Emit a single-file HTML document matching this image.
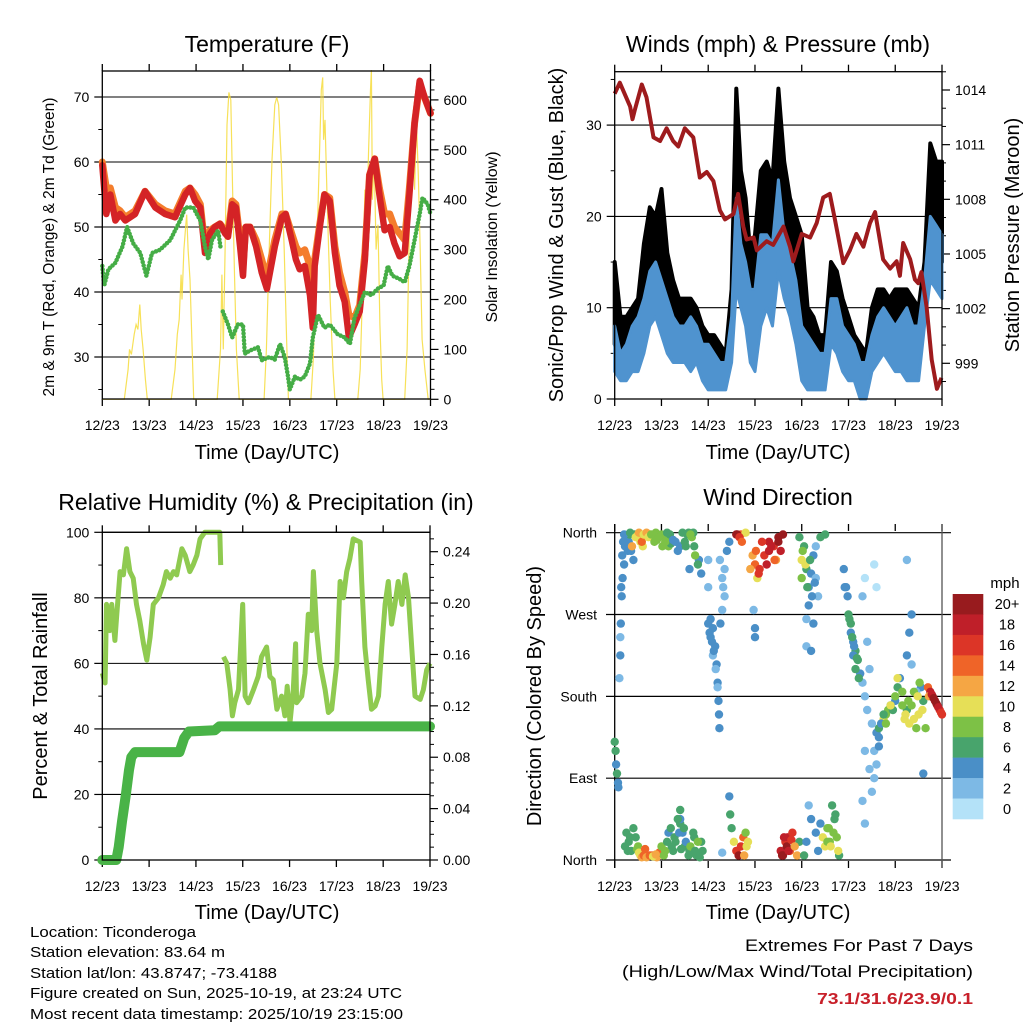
<!DOCTYPE html>
<html><head><meta charset="utf-8"><style>
html,body{margin:0;padding:0;background:#fff;}
svg{display:block;font-family:"Liberation Sans",sans-serif;}
</style></head><body>
<svg id="chart" width="1024" height="1024" viewBox="0 0 1024 1024" xmlns="http://www.w3.org/2000/svg">
<rect x="0" y="0" width="1024" height="1024" fill="#fff"/>
<g id="layer"></g>
<g font-size="23" text-anchor="middle" fill="#000">
<text x="267" y="52">Temperature (F)</text>
<text x="778" y="52">Winds (mph) &amp; Pressure (mb)</text>
<text x="266" y="510">Relative Humidity (%) &amp; Precipitation (in)</text>
<text x="778" y="505">Wind Direction</text>
</g>
<g font-size="20" text-anchor="middle" fill="#000">
<text x="267" y="459">Time (Day/UTC)</text>
<text x="778" y="459">Time (Day/UTC)</text>
<text x="267" y="919">Time (Day/UTC)</text>
<text x="778" y="919">Time (Day/UTC)</text>
<text transform="translate(54,247) rotate(-90)" font-size="15.5">2m &amp; 9m T (Red, Orange) &amp; 2m Td (Green)</text>
<text transform="translate(497,237) rotate(-90)" font-size="16">Solar Insolation (Yellow)</text>
<text transform="translate(563,235) rotate(-90)">Sonic/Prop Wind &amp; Gust (Blue, Black)</text>
<text transform="translate(1019,235) rotate(-90)">Station Pressure (Maroon)</text>
<text transform="translate(47,696) rotate(-90)">Percent &amp; Total Rainfall</text>
<text transform="translate(541,696) rotate(-90)">Direction (Colored By Speed)</text>
</g>
<text x="1005" y="588" font-size="15" text-anchor="middle">mph</text>
<g font-size="14.5" fill="#000">
<text x="30" y="937" textLength="166" lengthAdjust="spacingAndGlyphs">Location: Ticonderoga</text>
<text x="30" y="957" textLength="195" lengthAdjust="spacingAndGlyphs">Station elevation: 83.64 m</text>
<text x="30" y="978" textLength="247" lengthAdjust="spacingAndGlyphs">Station lat/lon: 43.8747; -73.4188</text>
<text x="30" y="998" textLength="372" lengthAdjust="spacingAndGlyphs">Figure created on Sun, 2025-10-19, at 23:24 UTC</text>
<text x="30" y="1019" textLength="373" lengthAdjust="spacingAndGlyphs">Most recent data timestamp: 2025/10/19 23:15:00</text>
</g>
<g text-anchor="end">
<text x="973" y="951" font-size="16.5" textLength="228" lengthAdjust="spacingAndGlyphs">Extremes For Past 7 Days</text>
<text x="973" y="977" font-size="16.5" textLength="351" lengthAdjust="spacingAndGlyphs">(High/Low/Max Wind/Total Precipitation)</text>
<text x="973" y="1004" font-size="16" font-weight="bold" fill="#c8202a" textLength="156" lengthAdjust="spacingAndGlyphs">73.1/31.6/23.9/0.1</text>
</g>
</svg>
<script>
// ---------- data ----------
const dayLabels=['12/23','13/23','14/23','15/23','16/23','17/23','18/23','19/23'];
const tempTicks=[30,40,50,60,70];
const solarTicks=[0,100,200,300,400,500,600];
const windTicks=[0,10,20,30];
const presTicks=[999,1002,1005,1008,1011,1014];
const rhTicks=[0,20,40,60,80,100];
const rainTicks=[0,0.04,0.08,0.12,0.16,0.20,0.24];
const dirTicks=[0,90,180,270,360];
const dirLabels=['North','East','South','West','North'];
const speedBins=['0','2','4','6','8','10','12','14','16','18','20+'];
const speedColors=['#b4e2f8','#7db9e5','#4a8fc7','#48a46c','#7dc146','#e6df57','#f5a644','#ef6428','#dc3527','#bf1f29','#981b1e'];

const tT=[0,.085,.17,.28,.38,.49,.7,.91,1.13,1.34,1.55,1.77,1.87,1.98,2.09,2.19,2.3,2.4,2.51,2.62,2.68,2.77,2.85,2.94,3.0,3.06,3.15,3.28,3.4,3.51,3.68,3.83,3.91,4.04,4.13,4.21,4.32,4.43,4.49,4.53,4.64,4.74,4.85,4.96,5.06,5.17,5.26,5.38,5.49,5.6,5.7,5.81,5.91,6.02,6.13,6.23,6.34,6.45,6.55,6.66,6.77,6.87,7.0];
const t2m=[59.5,52,55,51,52,51,52,55.5,53,52,51.5,55,56,54,53,46,49,50,50.5,49,48.5,53.5,53,47,42.5,50,50,47,43,40.5,47,51.5,52,48,45,43.5,44,39.5,34.5,44,50,55,54,46,41,38.5,33,35,37,45,58,60.5,55,49.5,50,47.5,45.5,46,55,66,72.5,70,67.5];
const t9m=[60,56,56,53,52.5,51.5,52.5,55.5,53.5,52.5,52,55.5,56,55,53.5,47,49.5,50,50.5,49.5,49,54,53.5,48,44,50,50,48,45,42,48,52,52,49,47,46,46.5,44,42,45,50.5,55,54.5,47,43,40,36.5,36,38,46,58,60.5,56,52,52,50,49,48,56,66,72,70,67.5];
const tdT=[0,.04,.13,.28,.43,.53,.66,.81,.94,1.06,1.23,1.45,1.66,1.77,1.94,2.09,2.19,2.26,2.34,2.47,2.53,null,2.57,2.68,2.77,2.89,3.0,3.04,3.15,3.32,3.4,3.57,3.68,3.79,3.89,3.96,4.0,4.11,4.21,4.32,4.43,4.49,4.6,4.74,4.85,5.02,5.17,5.28,5.38,5.49,5.6,5.74,5.87,6.0,6.09,6.19,6.34,6.45,6.55,6.66,6.77,6.83,6.94,7.0];
const td2m=[44,41,43.5,44.5,47,50,47.5,46,42.5,46,46.5,48,51,53,53,51,47,45,48,49.5,46.5,null,37,35,33,35,35,30.5,31,31.5,29.5,30,29.6,32,30,27,25,27,26.5,27,29,33,36.5,34.5,35,33.5,33,32,36,38,40,39.5,40.5,41,44,42.5,42,41.5,44,48,52,54.5,53.5,52];
const solarT=[0,.47,.55,.58,.62,.68,.72,.76,.8,.83,.87,.92,.96,1.47,1.55,1.6,1.64,1.68,1.7,1.74,1.78,1.8,1.83,1.87,1.9,1.95,2.45,2.52,2.55,2.58,2.62,2.66,2.7,2.74,2.78,2.82,2.86,2.92,3.45,3.5,3.56,3.62,3.68,3.72,3.76,3.82,3.88,3.93,3.97,4.45,4.5,4.56,4.62,4.67,4.7,4.72,4.75,4.8,4.86,4.92,4.96,5.45,5.5,5.56,5.6,5.64,5.68,5.72,5.74,5.76,5.8,5.84,5.88,5.92,5.96,5.99,6.45,6.5,6.55,6.6,6.63,6.66,6.7,6.74,6.78,6.82,6.88,6.95,7.0];
const solarV=[0,0,60,100,90,130,150,140,190,140,100,40,0,0,60,130,160,250,200,300,350,370,300,240,150,0,0,100,250,100,300,550,615,600,420,250,100,0,0,100,300,480,590,605,590,470,300,120,0,0,80,250,450,620,645,520,560,380,200,60,0,0,60,250,420,350,500,620,660,400,480,300,350,150,40,0,0,100,350,500,560,420,560,450,300,120,60,0,0];

const wT=[0,.125,.25,.375,.5,.625,.75,.875,1,1.125,1.25,1.375,1.5,1.625,1.75,1.875,2,2.125,2.25,2.375,2.5,2.6,2.7,2.8,2.9,3,3.125,3.25,3.375,3.5,3.625,3.75,3.875,4,4.125,4.25,4.375,4.5,4.625,4.75,4.875,5,5.125,5.25,5.375,5.5,5.625,5.75,5.875,6,6.125,6.25,6.375,6.5,6.625,6.75,6.875,7];
const windLo=[3,2,2,3,3,5,8,9,7,5,4,4,4,3,4,2,1,1,1,1,4,12,10,8,4,3,8,10,8,14,11,9,6,2,1,1,1,1,6,5,3,2,2,0,0,3,4,5,4,3,3,2,2,2,8,13,12,11];
const windHi=[8,5,6,8,9,11,14,15,13,11,9,8,8,9,8,6,6,5,4,4,9,22,17,15,12,12,18,18,17,24,18,16,13,8,7,6,5,5,11,11,8,7,6,4,4,7,9,10,9,8,9,10,8,8,13,20,19,18];
const gustLo=[6,4,4,5,6,8,12,13,11,8,6,6,6,5,6,3,2,2,2,2,6,18,14,12,6,8,12,15,13,20,15,13,9,5,3,3,2,3,9,8,5,4,3,1,1,4,6,7,6,5,5,4,4,4,10,17,16,15];
const gustHi=[15,9,9,10,11,17,21,20,23,16,13,11,11,11,10,8,7,7,6,5,12,34,25,22,16,18,25,26,24,34,26,22,20,18,10,9,7,7,15,14,11,9,7,6,5,10,12,12,11,12,12,12,11,10,15,28,26,26];
const presT=[0,.11,.33,.38,.43,.58,.68,.83,.97,1.11,1.25,1.36,1.5,1.68,1.82,1.97,2.11,2.25,2.36,2.54,2.64,2.75,2.82,2.97,3.04,3.25,3.39,3.61,3.75,3.82,4.0,4.18,4.32,4.46,4.6,4.71,4.89,5.03,5.17,5.32,5.46,5.57,5.74,5.89,6.03,6.1,6.17,6.32,6.42,6.49,6.56,6.67,6.78,6.89,6.99];
const presV=[1013.8,1014.4,1013.1,1012.4,1012.9,1014.3,1013.6,1011.4,1011.2,1011.9,1011.2,1010.9,1011.9,1011.4,1009.2,1009.5,1009,1007.4,1006.9,1007.2,1008.3,1006.5,1005.8,1005.9,1005.2,1005.7,1005.5,1006.5,1005.4,1004.6,1006.1,1005.9,1006.7,1008.1,1008.3,1006.9,1004.5,1005.2,1006.1,1005.4,1006.7,1007.3,1004.7,1004.2,1004.6,1003.8,1005.6,1004.7,1003.6,1003.4,1004,1002.1,999.2,997.6,998.2];

const rhT=[0,.06,.09,.16,.2,.27,.31,.38,.45,.52,.59,.66,.73,.8,.88,.95,1.02,1.09,1.2,1.3,1.37,1.45,1.52,1.59,1.7,1.77,1.87,1.94,2.02,2.09,2.19,2.51,2.53,null,2.59,2.66,2.73,2.78,2.83,2.91,3.0,3.05,3.12,3.23,3.33,3.4,3.51,3.58,3.65,3.73,3.83,3.9,3.95,4.01,4.08,4.13,4.15,4.26,4.33,4.4,4.47,4.51,4.58,4.65,4.76,4.83,4.9,5.01,5.08,5.15,5.22,5.29,5.36,5.51,5.54,5.61,5.68,5.75,5.83,5.9,5.97,6.04,6.11,6.18,6.25,6.32,6.4,6.47,6.54,6.61,6.68,6.79,6.86,6.93,7.0];
const rhV=[57,54,78,70,78,67,75,88,87,95,88,86,78,73,66,61,68,78,80,84,88,86,88,87,95,93,88,90,93,98,100,100,90,null,62,60,52,44,48,52,78,50,48,52,56,62,65,56,55,46,50,44,53,42,52,66,48,50,57,75,70,88,70,60,52,45,46,60,85,80,88,92,98,97,85,65,55,46,47,50,65,78,85,72,78,85,78,87,80,65,50,49,52,58,60];
const rainT=[0,0.3,0.35,0.42,0.5,0.57,0.62,0.7,1.65,1.75,1.85,2.4,2.5,7];
const rainV=[0,0,0.01,0.03,0.05,0.07,0.08,0.084,0.084,0.095,0.1,0.101,0.104,0.104];

const wdT=[0,0.02,0.03,0.05,0.07,0.08,0.12,0.12,0.1,0.13,0.15,0.17,0.2,0.22,0.25,0.3,0.32,0.35,0.4,0.42,
0.5,0.55,0.6,0.65,0.75,0.8,0.9,1.0,1.1,1.15,1.2,1.3,1.4,1.5,1.55,1.65,1.7,1.8,1.85,1.6,1.68,
0.25,0.3,0.35,0.45,0.5,0.55,0.6,0.7,0.8,0.9,0.95,1.0,1.05,1.15,1.25,1.3,1.4,1.45,1.5,1.6,1.7,1.75,1.85,1.4,1.4,
2.05,2.05,2.1,2.15,2.18,2.2,2.22,2.23,2.24,2.1,2.0,2.25,2.3,2.35,2.3,2.4,2.45,2.0,2.0,
2.45,2.47,2.5,2.55,2.6,2.65,2.7,2.75,2.8,2.85,2.3,2.6,2.7,2.8,
2.95,3.0,3.05,3.1,3.2,3.3,3.4,3.45,3.5,3.6,3.55,3.3,2.97,3.0,3.0,
3.55,3.6,3.65,3.7,3.75,3.8,3.9,3.95,
3.95,4.0,4.0,4.05,4.1,4.15,4.2,4.25,4.3,4.35,4.25,4.1,4.1,4.2,4.4,4.5,4.3,4.15,
4.05,4.1,4.15,4.2,4.3,4.35,4.4,4.45,4.5,4.55,4.6,4.65,4.7,4.75,4.8,
4.9,4.95,5.0,5.05,5.1,5.15,5.2,5.25,5.3,5.35,5.05,5.1,5.15,
5.3,5.35,5.4,5.45,5.5,5.4,5.35,5.3,5.35,5.5,5.45,5.6,5.55,
5.55,5.6,5.65,5.7,5.75,5.8,5.85,5.9,5.95,6.0,6.05,6.1,6.15,6.2,6.25,6.3,6.35,6.4,6.45,6.5,6.55,6.6,6.45,5.6,5.55,5.65,6.35,6.25,6.3,6.35,
6.7,6.75,6.8,6.85,6.9,6.95,7.0,6.72,6.65,6.6,6.25,
0.14,0.16,0.18,0.2,0.28,0.33,0.37,0.45,0.52,0.58,0.62,0.68,0.72,0.78,0.85,0.88,0.95,1.02,1.08,1.12,1.18,1.25,1.35,1.45,1.52,1.58,1.62,1.72,1.78,
0.22,0.28,0.33,0.4,0.48,0.52,0.58,0.62,0.65,0.68,0.75,0.82,0.88,1.08,1.12,1.2,1.22,1.28,1.35,1.38,1.42,1.48,1.52,1.58,1.62,1.68,1.72,1.78,1.82,1.88,
2.03,2.08,2.12,2.16,2.2,2.26,2.32,2.35,2.62,2.67,2.72,2.77,2.82,2.9,3.02,3.08,3.15,3.25,3.35,3.42,3.5,3.58,3.62,3.68,3.72,3.78,3.85,
4.02,4.08,4.12,4.18,4.22,4.28,4.55,4.58,4.62,4.68,4.72,4.78,4.92,4.98,5.02,5.08,5.12,5.18,5.22,5.65,5.7,5.75,5.8,5.9,6.0,6.05,6.15,6.22,6.28,6.4,6.48,6.52,6.58,6.78,6.82,6.88,6.92,6.98];
const wdDir=[130,120,105,95,85,80,225,245,200,260,290,310,325,345,355,350,358,340,330,358,
358,350,345,358,358,355,352,358,355,345,348,350,345,350,358,355,345,330,315,320,360,
30,20,10,25,15,5,10,5,5,3,8,15,5,30,10,20,40,30,15,10,25,5,20,55,45,
265,245,255,235,215,195,175,160,145,225,260,330,310,290,275,340,350,330,300,
70,50,35,20,10,5,15,25,30,20,8,358,358,360,
335,325,310,320,335,340,345,330,350,358,340,350,275,255,245,
10,5,20,25,10,30,5,20,
355,330,310,345,320,300,315,335,310,290,260,265,235,230,355,358,345,280,
5,20,60,45,30,10,40,25,15,35,20,60,45,25,5,
320,300,270,250,240,230,220,205,195,180,260,225,210,
290,310,240,210,150,165,120,65,40,75,100,300,325,
120,140,145,150,155,160,165,170,165,175,190,200,185,155,165,150,170,155,145,160,190,175,185,105,90,125,215,225,250,270,
190,185,180,175,170,165,160,180,145,95,330,
300,335,350,358,340,360,345,355,360,350,358,360,355,358,350,360,355,345,350,360,358,352,340,360,345,360,358,335,325,
15,10,25,35,12,8,3,5,12,3,5,4,6,10,20,35,15,25,45,30,12,35,20,5,15,30,10,20,3,10,
250,240,230,210,190,260,300,320,358,355,350,5,15,320,340,315,350,325,345,330,355,5,25,15,10,22,15,
340,325,300,330,290,305,20,35,15,30,50,10,300,290,265,245,235,222,200,135,150,160,150,170,180,200,170,160,175,185,180,195,165,182,178,172,168,162];
const wdSpd=[6,6,4,6,4,4,4,2,2,4,4,4,4,4,4,4,6,4,4,6,
12,10,10,14,12,10,8,8,8,8,6,4,4,6,6,8,6,4,4,4,6,
6,6,6,6,8,10,10,14,14,12,14,8,8,4,6,6,6,4,6,6,6,6,6,6,4,
4,4,4,4,4,4,4,4,4,2,4,2,2,2,2,4,4,2,2,
4,6,6,10,16,20,16,14,8,10,2,20,14,10,
12,14,10,16,16,18,16,12,20,20,18,18,2,4,4,
18,20,16,18,14,16,12,6,
6,10,8,6,6,4,4,4,2,2,4,2,2,4,6,6,2,4,
6,4,2,4,4,4,4,10,10,8,8,6,6,8,6,
4,4,6,4,4,6,6,4,2,2,6,4,6,
2,0,2,2,2,2,2,2,2,2,2,0,0,
2,4,6,8,10,8,8,6,6,4,6,4,8,10,6,10,8,10,8,10,4,6,2,2,2,4,2,4,4,4,
14,18,20,20,18,16,16,12,8,4,2,
4,4,4,4,4,6,12,10,12,14,10,12,10,8,8,8,8,8,8,6,6,4,4,6,6,6,8,8,6,
6,6,6,6,8,10,12,14,14,12,14,10,12,8,6,6,6,6,6,4,6,6,4,6,8,6,6,8,6,6,
4,4,4,2,2,4,2,2,20,16,14,12,10,12,14,16,16,18,18,14,20,20,18,20,18,16,12,
8,10,6,6,4,4,8,8,10,8,6,10,4,4,6,6,4,6,6,4,4,6,8,10,8,10,8,10,8,8,10,8,10,18,20,20,18,16];

// ---------- helpers ----------
const NS='http://www.w3.org/2000/svg';
const layer=document.getElementById('layer');
function mk(tag,name,attrs,parent){
  const el=document.createElementNS(NS,tag);
  
  
  for(const k in attrs) el.setAttribute(k,attrs[k]);
  (parent||layer).appendChild(el);
  return el;
}
function txt(s,name,attrs){const t=mk('text',name,attrs);t.textContent=s;return t;}
function linePath(ts,vs,xf,yf){let d='',pen=false;for(let i=0;i<ts.length;i++){if(ts[i]===null||vs[i]===null){pen=false;continue;}d+=(pen?'L':'M')+xf(ts[i]).toFixed(1)+','+yf(vs[i]).toFixed(1);pen=true;}return d;}
function band(ts,lo,hi,xf,yf){let p=[];for(let i=0;i<ts.length;i++)p.push(xf(ts[i]).toFixed(1)+','+yf(hi[i]).toFixed(1));for(let i=ts.length-1;i>=0;i--)p.push(xf(ts[i]).toFixed(1)+','+yf(lo[i]).toFixed(1));return p.join(' ');}

function xAxis(x0,x1,yb,yt,labY,pfx){
  const xf=d=>x0+d*(x1-x0)/7;
  dayLabels.forEach((l,i)=>{
    const x=xf(i);
    mk('line',pfx+'-x-tick',{x1:x,x2:x,y1:yb,y2:yb+7,stroke:'#000','stroke-width':1.3});
    if(yt!==null) mk('line',pfx+'-top-tick',{x1:x,x2:x,y1:yt,y2:yt-7,stroke:'#000','stroke-width':1.3});
    txt(l,pfx+'-x-tick-label',{x:x,y:labY,'font-size':14,'text-anchor':'middle'});
  });
  return xf;
}
function yAxis(vals,yf,x,side,pfx,fmt,grid,x0,x1,minors){
  const dir=side==='left'?-1:1;
  vals.forEach(v=>{
    const y=yf(v);
    if(grid) mk('line',pfx+'-gridline',{x1:x0,x2:x1,y1:y,y2:y,stroke:'#000','stroke-width':1.1});
    mk('line',pfx+'-tick',{x1:x,x2:x+dir*8,y1:y,y2:y,stroke:'#000','stroke-width':1.2});
    txt(fmt(v),pfx+'-tick-label',{x:x+dir*13,y:y+5,'font-size':14,'text-anchor':side==='left'?'end':'start'});
  });
  (minors||[]).forEach(v=>{const y=yf(v);mk('line',pfx+'-minor-tick',{x1:x,x2:x+dir*4,y1:y,y2:y,stroke:'#000','stroke-width':1});});
}
function range(a,b,s){const r=[];for(let v=a;v<=b+1e-9;v+=s)r.push(+v.toFixed(4));return r;}

// ---------- Panel 1: temperature ----------
(function(){
  const x0=102.3,x1=430.5,y0=71,y1=399;
  const ty=v=>357-(v-30)*6.5, sy=v=>399.3-0.499*v;
  const xf=xAxis(x0,x1,y1,y0,430,'temp');
  yAxis(tempTicks,ty,x0,'left','temp-y',v=>String(v),true,x0,x1,[25,35,45,55,65]);
  yAxis(solarTicks,sy,x1,'right','solar-y',v=>String(v),false,0,0,range(20,640,20).filter(v=>v%100));
  mk('path','solar-insolation-line',{d:linePath(solarT,solarV,xf,sy),fill:'none',stroke:'#f6dc3c','stroke-width':1.2,'stroke-opacity':0.85});
  mk('path','temperature-9m-line',{d:linePath(tT,t9m,xf,ty),fill:'none',stroke:'#f47d2c','stroke-width':7,'stroke-linejoin':'round','stroke-linecap':'round'});
  mk('path','temperature-2m-line',{d:linePath(tT,t2m,xf,ty),fill:'none',stroke:'#d42326','stroke-width':6.5,'stroke-linejoin':'round','stroke-linecap':'round'});
  mk('path','dewpoint-2m-line',{d:linePath(tdT,td2m,xf,ty),fill:'none',stroke:'#45ad46','stroke-width':4.5,'stroke-dasharray':'0 3.5','stroke-linecap':'round'});
  mk('rect','temp-plot-frame',{x:x0,y:y0,width:x1-x0,height:y1-y0,fill:'none',stroke:'#000','stroke-width':1.3});
})();

// ---------- Panel 2: winds & pressure ----------
(function(){
  const x0=614.7,x1=942,y0=71.7,y1=399;
  const wy=v=>399-9.13*v, py=p=>90+(1014-p)*18.22;
  const xf=xAxis(x0,x1,y1,y0,430,'wind');
  yAxis(windTicks,wy,x0,'left','wind-y',v=>String(v),true,x0,x1,[5,15,25,35]);
  yAxis(presTicks,py,x1,'right','pressure-y',v=>String(v),false,0,0,range(998,1015,1).filter(v=>(v-999)%3));
  mk('polygon','gust-band',{points:band(wT,gustLo,gustHi,xf,wy),fill:'#000',stroke:'#000','stroke-width':4,'stroke-linejoin':'round'});
  mk('polygon','wind-speed-band',{points:band(wT,windLo,windHi,xf,wy),fill:'#4f93cf',stroke:'#4f93cf','stroke-width':3,'stroke-linejoin':'round'});
  mk('path','pressure-line',{d:linePath(presT,presV,xf,py),fill:'none',stroke:'#9e1b1d','stroke-width':4,'stroke-linejoin':'round'});
  mk('rect','wind-plot-frame',{x:x0,y:y0,width:x1-x0,height:y1-y0,fill:'none',stroke:'#000','stroke-width':1.3});
})();

// ---------- Panel 3: RH & precipitation ----------
(function(){
  const x0=102.3,x1=430,y0=532.3,y1=860;
  const ry=v=>860-3.277*v, py=v=>860-1284.6*v;
  const xf=xAxis(x0,x1,y1,y0,891,'rh');
  yAxis(rhTicks,ry,x0,'left','rh-y',v=>String(v),true,x0,x1,[10,30,50,70,90]);
  yAxis(rainTicks,py,x1,'right','rain-y',v=>v.toFixed(2),false,0,0,range(0.01,0.25,0.01).filter(v=>Math.round(v*100)%4));
  mk('path','relative-humidity-line',{d:linePath(rhT,rhV,xf,ry),fill:'none',stroke:'#8fca50','stroke-width':5,'stroke-linejoin':'round'});
  mk('path','total-rainfall-line',{d:linePath(rainT,rainV,xf,py),fill:'none',stroke:'#49b347','stroke-width':10,'stroke-linejoin':'round','stroke-linecap':'round'});
  mk('rect','rh-plot-frame',{x:x0,y:y0,width:x1-x0,height:y1-y0,fill:'none',stroke:'#000','stroke-width':1.3});
})();

// ---------- Panel 4: wind direction ----------
(function(){
  const x0=614.7,x1=942,yb=860,yt=533;
  const dy=v=>860-v*0.9092;
  const xf=xAxis(x0,x1,yb+1,yt-2,891,'dir');
  dirTicks.forEach((v,i)=>{
    const y=dy(v);
    mk('line','dir-gridline',{x1:606,x2:951,y1:y,y2:y,stroke:'#000','stroke-width':1.2});
    txt(dirLabels[i],'dir-tick-label',{x:597,y:y+5,'font-size':14,'text-anchor':'end'});
  });
  mk('line','dir-left-axis',{x1:x0,x2:x0,y1:yt-9,y2:yb+8,stroke:'#000','stroke-width':1.3});
  mk('line','dir-right-axis',{x1:x1,x2:x1,y1:yt-9,y2:yb+8,stroke:'#555','stroke-width':1.3});
  for(let i=0;i<wdT.length;i++){
    const s=wdSpd[i]===undefined?4:wdSpd[i];
    const bin=Math.min(10,Math.floor(s/2));
    const c=mk('circle','wind-direction-point',{cx:xf(wdT[i]).toFixed(1),cy:dy(wdDir[i]).toFixed(1),r:4.2,fill:speedColors[bin]});
    
  }
  // colorbar
  const cbTop=594,cbH=225/11;
  for(let i=0;i<11;i++){
    const k=10-i;
    mk('rect','colorbar-swatch',{x:952.7,y:(cbTop+i*cbH).toFixed(2),width:30.6,height:(cbH+0.3).toFixed(2),fill:speedColors[k]});
    txt(speedBins[k],'colorbar-label',{x:1007,y:(cbTop+i*cbH+cbH/2+5).toFixed(1),'font-size':14.5,'text-anchor':'middle'});
  }
})();
</script>
</body></html>
